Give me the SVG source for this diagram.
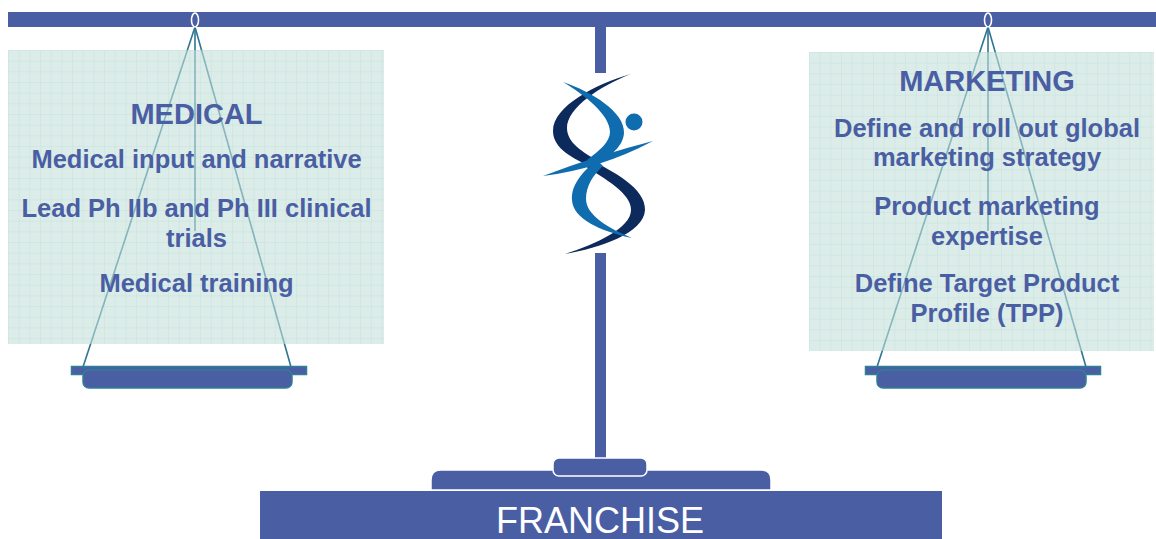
<svg xmlns="http://www.w3.org/2000/svg" width="1156" height="539" viewBox="0 0 1156 539">
<defs>
<style>
.beam{fill:#4a5ea4}
.panelbg{fill:#c5e1da}
.panel{opacity:0.6}
.string{stroke:#2f7591;stroke-width:1.6;fill:none}
.ring{fill:#4a5ea4;stroke:#ffffff;stroke-width:1.6}
.pan{fill:#4a5ea4;stroke:#2f7f95;stroke-width:1.5}
.hdr{font-family:"Liberation Sans",Arial,sans-serif;font-weight:bold;font-size:29px;fill:#4a5ea4;text-anchor:middle}
.txt{font-family:"Liberation Sans",Arial,sans-serif;font-weight:bold;font-size:25.5px;fill:#4a5ea4;text-anchor:middle}
.base{fill:#4a5ea4;stroke:#ffffff;stroke-width:1.5}
.dark{fill:#0d2a5c}
.blue{fill:#0f6cae}
</style>
<pattern id="gridL" x="8" y="50" width="10.67" height="10.67" patternUnits="userSpaceOnUse">
<path d="M0,0 H10.67 M0,0 V10.67" stroke="#9ecfc8" stroke-width="1" fill="none"/>
</pattern>
<pattern id="gridR" x="809" y="52" width="10.67" height="10.67" patternUnits="userSpaceOnUse">
<path d="M0,0 H10.67 M0,0 V10.67" stroke="#9ecfc8" stroke-width="1" fill="none"/>
</pattern>
</defs>
<rect width="1156" height="539" fill="#ffffff"/>

<g id="connectors">
<line class="string" x1="195" y1="27" x2="83" y2="367"/>
<line class="string" x1="195" y1="27" x2="291" y2="367"/>
<line class="string" x1="195" y1="27" x2="195" y2="231"/>
<line class="string" x1="988" y1="27" x2="877" y2="367"/>
<line class="string" x1="988" y1="27" x2="1086" y2="367"/>
<line class="string" x1="988" y1="27" x2="988" y2="231"/>
</g>

<g id="medical">
<g class="panel">
<rect class="panelbg" x="8" y="50" width="376" height="294"/>
<rect x="8" y="50" width="376" height="294" fill="url(#gridL)"/>
</g>
<text class="hdr" x="196.5" y="124">MEDICAL</text>
<text class="txt" x="196.5" y="168">Medical input and narrative</text>
<text class="txt" x="196.5" y="217">Lead Ph IIb and Ph III clinical</text>
<text class="txt" x="196.5" y="247">trials</text>
<text class="txt" x="196.5" y="292">Medical training</text>
</g>

<g id="marketing">
<g class="panel">
<rect class="panelbg" x="809" y="52" width="345" height="299"/>
<rect x="809" y="52" width="345" height="299" fill="url(#gridR)"/>
</g>
<text class="hdr" x="987" y="91">MARKETING</text>
<text class="txt" x="987" y="137">Define and roll out global</text>
<text class="txt" x="987" y="166">marketing strategy</text>
<text class="txt" x="987" y="215">Product marketing</text>
<text class="txt" x="987" y="245">expertise</text>
<text class="txt" x="987" y="292">Define Target Product</text>
<text class="txt" x="987" y="322">Profile (TPP)</text>
</g>

<g id="beam">
<rect class="beam" x="8" y="12" width="1148" height="15"/>
<rect class="beam" x="595" y="27" width="11" height="46"/>
<rect class="beam" x="595" y="253" width="11" height="206"/>
<ellipse class="ring" cx="195" cy="20" rx="3.5" ry="7"/>
<ellipse class="ring" cx="988" cy="20" rx="3.5" ry="7"/>
</g>

<g id="pan-left">
<rect class="pan" x="71.5" y="366.5" width="235" height="8"/>
<rect class="pan" x="83" y="370" width="209" height="18" rx="6"/>
</g>
<g id="pan-right">
<rect class="pan" x="865.5" y="366.5" width="235" height="8"/>
<rect class="pan" x="877" y="370" width="209" height="18" rx="6"/>
</g>

<g id="logo">
<path class="dark" d="M631,74 C596,84 553,106 553,131 C553,149 574,159 592,167 L598,161 C583,152 567,143 567,128 C567,108 600,86 631,74 Z"/>
<path class="dark" d="M589,159 C612,171 646,188 645,210 C644,233 600,248 565,254 C596,244 631,228 631,210 C631,193 605,179 585,166 Z"/>
<path class="blue" d="M563,82 C592,92 625,112 624,133 C623,149 605,159 594,166 L587,160 C599,151 610,142 610,132 C610,115 585,95 563,82 Z"/>
<path class="blue" d="M597,160 C582,172 571,185 572,200 C573,219 600,231 632,238 C608,228 586,215 586,199 C586,186 593,175 603,166 Z"/>
<path class="blue" d="M543,176 Q598,155 653,141 Q600,169 543,176 Z"/>
<circle class="blue" cx="634" cy="122" r="8.5"/>
</g>

<g id="franchise">
<path class="base" d="M431,490 V480 Q431,470 441,470 H761 Q771,470 771,480 V490 Z"/>
<rect class="base" x="553" y="458" width="94" height="18" rx="6"/>
<rect x="260" y="491" width="682" height="48" fill="#4a5ea4"/>
<text x="600" y="533" font-family="'Liberation Sans',Arial,sans-serif" font-size="36" fill="#ffffff" text-anchor="middle">FRANCHISE</text>
</g>
</svg>
